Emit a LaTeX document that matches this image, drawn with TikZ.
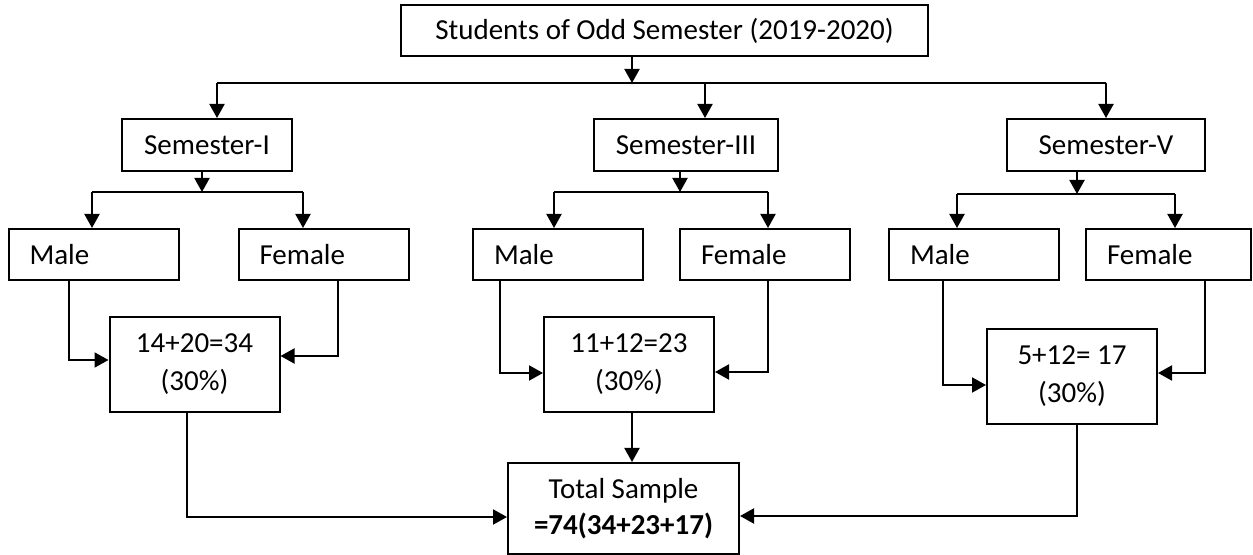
\documentclass[tikz,border=0pt]{standalone}
\usepackage{fontspec}
\setmainfont{Carlito}
\usetikzlibrary{arrows.meta}

\begin{document}
\begin{tikzpicture}[x=0.5pt,y=-0.5pt,line width=1pt,
    every node/.style={font=\fontsize{14.5}{19}\selectfont},
    box/.style={draw, line width=1pt, inner sep=0pt, align=center},
    sexbox/.style={draw, line width=1pt, text width=64pt, inner xsep=10.5pt, inner ysep=0pt, minimum height=25.5pt, align=left},
    resbox/.style={box, minimum width=85pt, minimum height=47.5pt},
    arr/.style={-{Triangle[length=7pt,width=7.5pt]}}]
        \useasboundingbox (0,0) rectangle (1253,555);

        \node[box, minimum width=263.5pt, minimum height=25.5pt] (top) at (664.5,30.5) {Students of Odd Semester (2019-2020)};
        \node[box, minimum width=85pt, minimum height=26pt] (sem1) at (207,145) {Semester-I};
        \node[box, minimum width=92pt, minimum height=26pt] (sem3) at (686,145) {Semester-III};
        \node[box, minimum width=99pt, minimum height=26pt] (sem5) at (1106,145) {Semester-V};

        \node[sexbox] (male1) at (93.5,254.5) {Male};
        \node[sexbox] (fem1) at (323.5,254.5) {Female};
        \node[sexbox] (male3) at (558,254.5) {Male};
        \node[sexbox] (fem3) at (765,254.5) {Female};
        \node[sexbox] (male5) at (974,254.5) {Male};
        \node[sexbox, text width=61.5pt] (fem5) at (1168.5,254.5) {Female};

        \node[resbox] (res1) at (194.5,364.5) {14+20=34\\(30\%)};
        \node[resbox] (res3) at (629,364.5) {11+12=23\\(30\%)};
        \node[resbox] (res5) at (1072,376.5) {5+12= 17\\(30\%)};
        \node[box, minimum width=115.5pt, minimum height=45.5pt, font=\fontsize{14.5}{18}\selectfont] (total) at (623.5,508.5) {Total Sample\\\textbf{=74(34+23+17)}};

        \coordinate (t0) at (632,83);
        \coordinate (b1) at (217,83);
        \coordinate (b3) at (705,83);
        \coordinate (b5) at (1106,83);
        \draw[arr] (top.south -| t0) -- (t0);
        \draw (b1) -- (b5);
        \draw[arr] (b1) -- (sem1.north -| b1);
        \draw[arr] (b3) -- (sem3.north -| b3);
        \draw[arr] (b5) -- (sem5.north);

        \coordinate (j1) at (202,192);
        \coordinate (l1) at (92,192);
        \coordinate (r1) at (303,192);
        \draw[arr] (sem1.south -| j1) -- (j1);
        \draw (l1) -- (r1);
        \draw[arr] (l1) -- (male1.north -| l1);
        \draw[arr] (r1) -- (fem1.north -| r1);

        \coordinate (j3) at (680,192);
        \coordinate (l3) at (554,192);
        \coordinate (r3) at (768,192);
        \draw[arr] (sem3.south -| j3) -- (j3);
        \draw (l3) -- (r3);
        \draw[arr] (l3) -- (male3.north -| l3);
        \draw[arr] (r3) -- (fem3.north -| r3);

        \coordinate (j5) at (1077,194);
        \coordinate (l5) at (957,194);
        \coordinate (r5) at (1175,194);
        \draw[arr] (sem5.south -| j5) -- (j5);
        \draw (l5) -- (r5);
        \draw[arr] (l5) -- (male5.north -| l5);
        \draw[arr] (r5) -- (fem5.north -| r5);

        \coordinate (p1) at (69,360);
        \coordinate (q1) at (338,356);
        \coordinate (p3) at (500,373);
        \coordinate (q3) at (768,372);
        \coordinate (p5) at (943,385);
        \coordinate (q5) at (1205,373);
        \draw[arr] (male1.south -| p1) |- (res1.west |- p1);
        \draw[arr] (fem1.south -| q1) |- (res1.east |- q1);
        \draw[arr] (male3.south -| p3) |- (res3.west |- p3);
        \draw[arr] (fem3.south -| q3) |- (res3.east |- q3);
        \draw[arr] (male5.south -| p5) |- (res5.west |- p5);
        \draw[arr] (fem5.south -| q5) |- (res5.east |- q5);

        \coordinate (u1) at (187,517);
        \coordinate (u3) at (632,440);
        \coordinate (u5) at (1077,516);
        \draw[arr] (res1.south -| u1) |- (total.west |- u1);
        \draw[arr] (res3.south -| u3) -- (total.north -| u3);
        \draw[arr] (res5.south -| u5) |- (total.east |- u5);
    \end{tikzpicture}
\end{document}
